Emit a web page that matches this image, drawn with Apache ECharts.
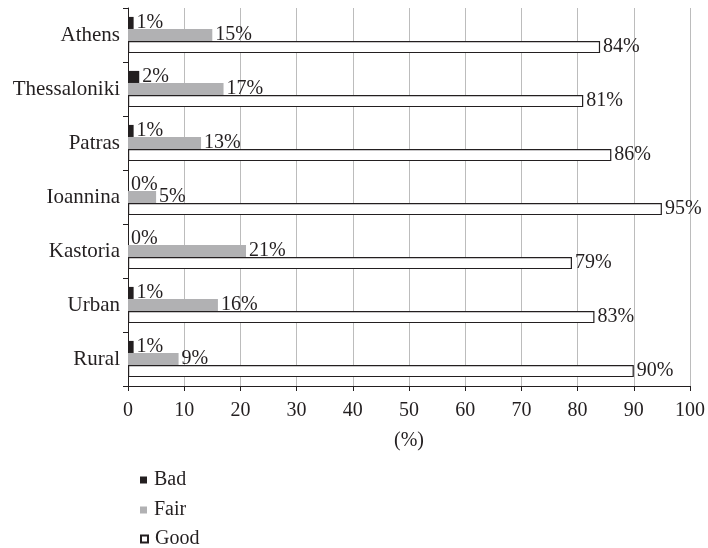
<!DOCTYPE html>
<html><head><meta charset="utf-8">
<script src="https://cdn.jsdelivr.net/npm/echarts@6/dist/echarts.min.js"></script>
<style>html,body{margin:0;padding:0;background:#fff}#c{width:708px;height:548px}</style>
</head><body><div id="c"></div>
<script>
const categories = ['Athens','Thessaloniki','Patras','Ioannina','Kastoria','Urban','Rural'];
const bad  = [1, 2, 1, 0, 0, 1, 1];
const fair = [15, 17, 13, 5, 21, 16, 9];
const good = [84, 81, 86, 95, 79, 83, 90];
const xTicks = [0,10,20,30,40,50,60,70,80,90,100];
const seriesNames = ['Bad','Fair','Good'];

const FONT = '"Liberation Serif", "DejaVu Serif", serif';
const TXT = '#231f20';
const lbl = {show:true, position:'right', distance:3, formatter:'{c}%', color:TXT, fontFamily:FONT, fontSize:20};
const legendTops = [465, 495, 524];
const chart = echarts.init(document.getElementById('c'));
chart.setOption({
  animation:false,
  grid:{left:128, right:15, top:8, bottom:162},
  xAxis:{type:'value', min:xTicks[0], max:xTicks[xTicks.length-1], interval:10,
    name:'(%)', nameLocation:'middle', nameGap:45,
    nameTextStyle:{fontFamily:FONT, fontSize:20, color:TXT},
    axisLine:{show:true, lineStyle:{color:TXT, width:1}},
    axisTick:{show:true, length:5, lineStyle:{color:TXT}},
    axisLabel:{fontFamily:FONT, fontSize:20, color:TXT, margin:15},
    splitLine:{show:true, lineStyle:{color:'#bcbcbc', width:1}}},
  yAxis:{type:'category', data:categories, inverse:true,
    axisLine:{show:true, lineStyle:{color:TXT, width:1}},
    axisTick:{show:true, length:5, lineStyle:{color:TXT}},
    axisLabel:{fontFamily:FONT, fontSize:21, color:TXT, margin:8}},
  legend: seriesNames.map((n,i)=>({orient:'vertical', left:135, top:legendTops[i], itemGap:0,
    itemWidth:7, itemHeight:7, icon:'rect',
    textStyle:{fontFamily:FONT, fontSize:20, color:TXT, padding:[0,0,0,2]},
    data:[n]})),
  series:[
    {name:'Bad', type:'bar', data:bad, barGap:'0%', barCategoryGap:'33%',
     itemStyle:{color:TXT}, label:lbl},
    {name:'Fair', type:'bar', data:fair, itemStyle:{color:'#b1b1b3'}, label:lbl},
    {name:'Good', type:'bar', data:good, itemStyle:{color:'#ffffff', borderColor:TXT, borderWidth:1.2}, label:lbl}
  ]
});
</script></body></html>
